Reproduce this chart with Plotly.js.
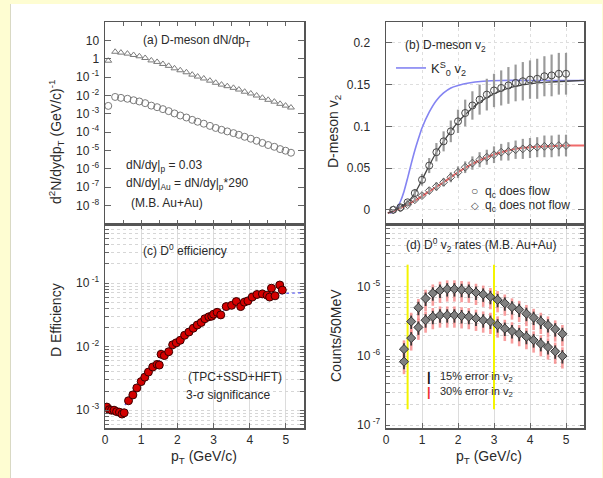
<!DOCTYPE html>
<html><head><meta charset="utf-8">
<script src="https://cdn.plot.ly/plotly-3.0.1.min.js"></script>
<style>
html,body{margin:0;padding:0;background:#fefdd2;width:603px;height:478px;overflow:hidden}
#chart{position:absolute;left:10px;top:4px;width:591px;height:474px;background:#fff;border-left:1px solid #d9d9c4}
</style></head><body>
<div id="chart"></div>
<script>
// ---------- Panel (a): D-meson dN/dpT ----------
const pTa = [0.09,0.28,0.44,0.62,0.79,0.95,1.11,1.28,1.44,1.60,1.76,1.92,2.08,2.25,2.41,2.56,2.73,2.90,3.06,3.22,3.38,3.55,3.70,3.86,4.03,4.19,4.35,4.51,4.68,4.84,4.99,5.14];
const dndptPP = [2.7e-3,8.3e-3,7.4e-3,6.6e-3,5.5e-3,4.7e-3,3.8e-3,2.8e-3,2.3e-3,1.8e-3,1.4e-3,1.05e-3,8.1e-4,6.3e-4,4.7e-4,3.7e-4,2.9e-4,2.2e-4,1.7e-4,1.35e-4,1.1e-4,8.9e-5,7.2e-5,5.6e-5,4.4e-5,3.4e-5,2.6e-5,2.0e-5,1.6e-5,1.2e-5,9.8e-6,7.6e-6];
const dndptAu = [0.78,2.4,2.15,1.9,1.6,1.36,1.1,0.81,0.67,0.52,0.41,0.30,0.235,0.183,0.136,0.107,0.084,0.064,0.049,0.039,0.032,0.026,0.021,0.016,0.0128,0.0099,0.0075,0.0058,0.0046,0.0035,0.0028,0.0022];
const ticksA = [10,1,1e-1,1e-2,1e-3,1e-4,1e-5,1e-6,1e-7,1e-8];
const tickTextA = ['10','1','10<sup> -1</sup>','10<sup> -2</sup>','10<sup> -3</sup>','10<sup> -4</sup>','10<sup> -5</sup>','10<sup> -6</sup>','10<sup> -7</sup>','10<sup> -8</sup>'];

// ---------- Panel (b): D-meson v2 ----------
const pTv2 = [0.2,0.4,0.6,0.8,1.0,1.2,1.4,1.6,1.8,2.0,2.2,2.4,2.6,2.8,3.0,3.2,3.4,3.6,3.8,4.0,4.2,4.4,4.6,4.8,5.0];
const v2Flow = [0.0,0.003,0.009,0.020,0.036,0.053,0.069,0.082,0.094,0.106,0.116,0.125,0.132,0.138,0.143,0.146,0.149,0.152,0.154,0.156,0.157,0.160,0.161,0.163,0.163];
const v2FlowErr = [0.001,0.002,0.003,0.005,0.007,0.009,0.011,0.012,0.013,0.014,0.016,0.017,0.018,0.019,0.020,0.021,0.022,0.022,0.023,0.023,0.024,0.024,0.025,0.025,0.025];
const v2NoFlow = [0.0,0.002,0.006,0.012,0.017,0.023,0.028,0.033,0.039,0.045,0.051,0.056,0.060,0.063,0.066,0.069,0.070,0.072,0.073,0.074,0.075,0.076,0.076,0.077,0.077];
const v2NoFlowErr = [0.001,0.001,0.002,0.003,0.003,0.004,0.005,0.005,0.006,0.007,0.007,0.008,0.009,0.009,0.010,0.010,0.011,0.011,0.012,0.012,0.012,0.013,0.013,0.013,0.013];
const pTk0s = [0.1,0.2,0.3,0.4,0.5,0.6,0.7,0.8,0.9,1.0,1.2,1.4,1.6,1.8,2.0,2.3,2.7,3.2,4.0,5.5];
const v2k0s = [-0.004,-0.002,0.002,0.010,0.022,0.038,0.055,0.071,0.085,0.098,0.117,0.131,0.140,0.146,0.149,0.152,0.154,0.155,0.155,0.155];
const pTfitFlow = [0.05,0.3,0.6,0.8,1.0,1.2,1.4,1.6,1.8,2.0,2.3,2.6,3.0,3.5,4.0,4.5,5.0,5.5];
const v2fitFlow = [-0.004,0.001,0.009,0.020,0.036,0.053,0.069,0.082,0.094,0.105,0.118,0.129,0.139,0.147,0.151,0.153,0.154,0.155];
const pTfitNoFlow = [0.05,0.4,0.8,1.2,1.6,2.0,2.4,2.8,3.2,3.6,4.0,4.5,5.0,5.5];
const v2fitNoFlow = [-0.004,0.002,0.011,0.022,0.033,0.045,0.055,0.063,0.069,0.073,0.075,0.076,0.077,0.077];

// ---------- Panel (c): D0 efficiency ----------
const pTeff = [0.05,0.12,0.18,0.25,0.32,0.40,0.47,0.53,0.65,0.77,0.88,1.00,1.10,1.20,1.32,1.44,1.50,1.55,1.64,1.76,1.87,1.97,2.08,2.20,2.32,2.44,2.55,2.66,2.76,2.87,2.95,3.00,3.10,3.20,3.35,3.50,3.63,3.75,3.85,3.95,4.07,4.20,4.35,4.48,4.55,4.60,4.70,4.83,4.90];
const eff = [1.12e-3,1.02e-3,1.0e-3,1.0e-3,9.5e-4,9.3e-4,8.7e-4,9.1e-4,1.41e-3,1.74e-3,2.24e-3,2.82e-3,3.31e-3,3.98e-3,4.79e-3,5.25e-3,5.13e-3,7.59e-3,7.24e-3,8.32e-3,0.0107,0.0115,0.0126,0.0151,0.0170,0.0195,0.0219,0.0240,0.0275,0.0295,0.0302,0.0324,0.0347,0.0316,0.0427,0.0447,0.0513,0.0427,0.0501,0.0525,0.0603,0.0661,0.0676,0.0646,0.0603,0.0832,0.0631,0.0933,0.0776];
const pTeffFit = [0.55,1.0,1.5,2.0,2.5,3.0,3.5,4.0,4.5,5.0,5.5];
const effFit = [1.2e-3,2.8e-3,6.0e-3,1.15e-2,2.0e-2,3.1e-2,4.3e-2,5.5e-2,6.4e-2,6.9e-2,7.0e-2];

// ---------- Panel (d): D0 v2 rates ----------
const pTrate = [0.5,0.7,0.9,1.1,1.3,1.5,1.7,1.9,2.1,2.3,2.5,2.7,2.9,3.1,3.3,3.5,3.7,3.9,4.1,4.3,4.5,4.7,4.9];
const rateFlow = [1.26e-6,3.16e-6,5.0e-6,6.8e-6,8.1e-6,8.9e-6,9.3e-6,9.3e-6,9.1e-6,8.9e-6,8.3e-6,7.8e-6,7.2e-6,6.5e-6,5.8e-6,5.1e-6,4.7e-6,4.1e-6,3.6e-6,3.16e-6,2.8e-6,2.45e-6,2.1e-6];
const rateNoFlow = [8.3e-7,1.82e-6,2.6e-6,3.3e-6,3.7e-6,3.9e-6,3.9e-6,3.9e-6,3.8e-6,3.7e-6,3.5e-6,3.3e-6,3.16e-6,2.8e-6,2.5e-6,2.3e-6,2.1e-6,1.9e-6,1.7e-6,1.5e-6,1.35e-6,1.17e-6,1.0e-6];
const cutX1 = [0.6,0.6], cutX2 = [3.0,3.0], cutY = [1.7e-7,2.1e-5];

// tick values (major labelled, minor unlabelled)
const ticksC = [1e-3,1e-2,1e-1], tickTextC = ['10<sup> -3</sup>','10<sup> -2</sup>','10<sup> -1</sup>'];
const minorC = [6e-4,7e-4,8e-4,9e-4,2e-3,3e-3,4e-3,5e-3,6e-3,7e-3,8e-3,9e-3,2e-2,3e-2,4e-2,5e-2,6e-2,7e-2,8e-2,9e-2,2e-1,3e-1,4e-1,5e-1,6e-1,7e-1];
const ticksD = [1e-7,1e-6,1e-5], tickTextD = ['10<sup> -7</sup>','10<sup> -6</sup>','10<sup> -5</sup>'];
const minorD = [2e-7,3e-7,4e-7,5e-7,6e-7,7e-7,8e-7,9e-7,2e-6,3e-6,4e-6,5e-6,6e-6,7e-6,8e-6,9e-6,2e-5,3e-5,4e-5,5e-5,6e-5,7e-5];

const W = 591, H = 474;
const px = v => v / W, py = v => 1 - v / H;
const FONT = 'Liberation Sans, Arial, sans-serif';
const TXT = '#2a2a2a';

const traces = [
  // (a)
  {x: pTa, y: dndptAu, xaxis:'x', yaxis:'y', mode:'markers', showlegend:false,
   marker:{symbol:'triangle-up-open', size:6, color:'#7a7a7a', line:{width:1}}},
  {x: pTa, y: dndptPP, xaxis:'x', yaxis:'y', mode:'markers', showlegend:false,
   marker:{symbol:'circle-open', size:7, color:'#7a7a7a', line:{width:1}}},
  // (b)
  {x: pTk0s, y: v2k0s, xaxis:'x2', yaxis:'y2', mode:'lines', name:'K<sup>S</sup><sub>0</sub> v<sub>2</sub>',
   line:{color:'#8484f2', width:1.6, shape:'spline', smoothing:0.6}, showlegend:true},
  {x: pTfitNoFlow, y: v2fitNoFlow, xaxis:'x2', yaxis:'y2', mode:'lines', showlegend:false,
   line:{color:'#f06a6a', width:2, shape:'spline'}},
  {x: pTfitFlow, y: v2fitFlow, xaxis:'x2', yaxis:'y2', mode:'lines', showlegend:false,
   line:{color:'#444', width:1.3, shape:'spline'}},
  {x: pTv2, y: v2Flow, xaxis:'x2', yaxis:'y2', mode:'markers', showlegend:false,
   error_y:{type:'data', array:v2FlowErr, color:'#9a9a9a', thickness:2.2, width:0},
   marker:{symbol:'circle-open', size:7, color:'#444', line:{width:1}}},
  {x: pTv2, y: v2NoFlow, xaxis:'x2', yaxis:'y2', mode:'markers', showlegend:false,
   error_y:{type:'data', array:v2NoFlowErr, color:'#9a9a9a', thickness:2.2, width:0},
   marker:{symbol:'diamond-open', size:6, color:'#555', line:{width:1}}},
  // (c)
  {x: pTeffFit, y: effFit, xaxis:'x3', yaxis:'y3', mode:'lines', showlegend:false,
   line:{color:'#5a5af0', width:1.2, dash:'dot', shape:'spline'}},
  {x: pTeff, y: eff, xaxis:'x3', yaxis:'y3', mode:'markers', showlegend:false,
   marker:{symbol:'circle', size:8, color:'#d40000', line:{color:'#3a0000', width:1}}},
  // (d)
  {x: cutX1, y: cutY, xaxis:'x4', yaxis:'y4', mode:'lines', showlegend:false, line:{color:'#f4f400', width:2}},
  {x: cutX2, y: cutY, xaxis:'x4', yaxis:'y4', mode:'lines', showlegend:false, line:{color:'#f4f400', width:2}},
  {x: pTrate, y: rateFlow, xaxis:'x4', yaxis:'y4', mode:'markers', showlegend:false,
   error_y:{type:'percent', value:34, color:'rgba(245,125,125,0.75)', thickness:2.6, width:0},
   marker:{size:1, color:'rgba(0,0,0,0)'}},
  {x: pTrate, y: rateNoFlow, xaxis:'x4', yaxis:'y4', mode:'markers', showlegend:false,
   error_y:{type:'percent', value:34, color:'rgba(245,125,125,0.75)', thickness:2.6, width:0},
   marker:{size:1, color:'rgba(0,0,0,0)'}},
  {x: pTrate, y: rateFlow, xaxis:'x4', yaxis:'y4', mode:'markers', showlegend:false,
   error_y:{type:'percent', value:22, color:'#3a3a3a', thickness:1.8, width:0},
   marker:{symbol:'diamond', size:7, color:'#808080', line:{color:'#333', width:1}}},
  {x: pTrate, y: rateNoFlow, xaxis:'x4', yaxis:'y4', mode:'markers', showlegend:false,
   error_y:{type:'percent', value:22, color:'#3a3a3a', thickness:1.8, width:0},
   marker:{symbol:'diamond', size:7, color:'#808080', line:{color:'#333', width:1}}}
];

const frame = {showline:true, linecolor:'#555', linewidth:1.5, mirror:'ticks', ticks:'inside', tickcolor:'#666',
  zeroline:false, tickfont:{family:FONT, size:12, color:TXT}};
const xl = [px(94), px(293)], xr = [px(375), px(573)];
const yt = [py(220), py(18)], yb = [py(424), py(220)];
const blank = arr => arr.map(() => '');

function ann(text, x, y, opts) {
  return Object.assign({text:text, x:px(x), y:py(y), xref:'paper', yref:'paper', xanchor:'left', yanchor:'middle',
    showarrow:false, font:{size:12}}, opts || {});
}

const layout = {
  width: W, height: H, margin:{l:0, r:0, t:0, b:0},
  paper_bgcolor:'#fff', plot_bgcolor:'#fff',
  font:{family:FONT, color:TXT},
  xaxis: Object.assign({}, frame, {domain:xl, anchor:'y', range:[0,5.5], tickvals:[0,0.5,1,1.5,2,2.5,3,3.5,4,4.5,5],
     ticklen:4, showticklabels:false, showgrid:false}),
  yaxis: Object.assign({}, frame, {domain:yt, anchor:'x', type:'log', range:[-9,2], tickvals:ticksA, ticktext:tickTextA, ticklen:6, showgrid:false, ticklabelstandoff:2}),
  xaxis2: Object.assign({}, frame, {domain:xr, anchor:'y2', range:[0,5.5], tickvals:[0,1,2,3,4,5], ticklen:5, showticklabels:false,
     showgrid:true, gridcolor:'#dedede', griddash:'dot'}),
  yaxis2: Object.assign({}, frame, {domain:yt, anchor:'x2', range:[-0.017,0.225], tickvals:[0,0.05,0.1,0.15,0.2], ticktext:['0','0.05','0.1','0.15','0.2'],
     ticklen:6, showgrid:true, gridcolor:'#dedede', griddash:'dot', ticklabelstandoff:12}),
  xaxis3: Object.assign({}, frame, {domain:xl, anchor:'y3', range:[0,5.5], ticklen:5, tickvals:[0,1,2,3,4,5],
     showgrid:true, gridcolor:'#dcdcdc'}),
  yaxis3: Object.assign({}, frame, {domain:yb, anchor:'x3', type:'log', range:[-3.28,-0.07],
     tickvals:ticksC.concat(minorC), ticktext:tickTextC.concat(blank(minorC)), ticklen:4,
     showgrid:true, gridcolor:'#d6d6d6', griddash:'dot', ticklabelstandoff:2}),
  xaxis4: Object.assign({}, frame, {domain:xr, anchor:'y4', range:[0,5.5], ticklen:5, tickvals:[0,1,2,3,4,5],
     showgrid:true, gridcolor:'#dcdcdc'}),
  yaxis4: Object.assign({}, frame, {domain:yb, anchor:'x4', type:'log', range:[-7.04,-4.09],
     tickvals:ticksD.concat(minorD), ticktext:tickTextD.concat(blank(minorD)), ticklen:4,
     showgrid:true, gridcolor:'#d6d6d6', griddash:'dot', ticklabelstandoff:2}),
  legend:{x:px(380), y:py(64), xanchor:'left', yanchor:'middle', bgcolor:'rgba(0,0,0,0)', borderwidth:0,
     font:{family:FONT, size:13, color:TXT}, itemwidth:30},
  annotations: [
    // axis titles
    ann('d<sup>2</sup>N/dydp<sub>T</sub> (GeV/c)<sup>-1</sup>', 45, 138, {xanchor:'center', textangle:-90, font:{size:14}}),
    ann('D-meson v<sub>2</sub>', 323, 128, {xanchor:'center', textangle:-90, font:{size:14}}),
    ann('D Efficiency', 45, 316, {xanchor:'center', textangle:-90, font:{size:14}}),
    ann('Counts/50MeV', 325, 331, {xanchor:'center', textangle:-90, font:{size:14}}),
    ann('p<sub>T</sub> (GeV/c)', 193, 453, {xanchor:'center', font:{size:14}}),
    ann('p<sub>T</sub> (GeV/c)', 478, 453, {xanchor:'center', font:{size:14}}),
    // panel (a)
    ann('(a) D-meson dN/dp<sub>T</sub>', 130, 37),
    ann('dN/dy|<sub>p</sub> = 0.03', 113, 162),
    ann('dN/dy|<sub>Au</sub> = dN/dy|<sub>p</sub>*290', 113, 180),
    ann('(M.B. Au+Au)', 118, 199),
    // panel (b)
    ann('(b) D-meson v<sub>2</sub>', 392, 42),
    ann('○', 464, 187, {xanchor:'center', font:{size:12, color:'#444'}}),
    ann('q<sub>c</sub> does flow', 472, 188),
    ann('◇', 464, 201, {xanchor:'center', font:{size:10, color:'#444'}}),
    ann('q<sub>c</sub> does not flow', 472, 202),
    // panel (c)
    ann('(c) D<sup>0</sup> efficiency', 130, 246),
    ann('(TPC+SSD+HFT)', 175, 373),
    ann('3-σ significance', 173, 391),
    // panel (d)
    ann('(d) D<sup>0</sup> v<sub>2</sub> rates (M.B. Au+Au)', 393, 241),
    ann('<b>|</b>', 418, 372, {xanchor:'center', font:{size:13, color:'#111'}}),
    ann('15% error in v<sub>2</sub>', 427, 373, {font:{size:11}}),
    ann('<b>|</b>', 418, 387, {xanchor:'center', font:{size:13, color:'#f03030'}}),
    ann('30% error in v<sub>2</sub>', 427, 388, {font:{size:11}})
  ]
};

Plotly.newPlot('chart', traces, layout, {staticPlot:true, displayModeBar:false});
</script>
</body></html>
